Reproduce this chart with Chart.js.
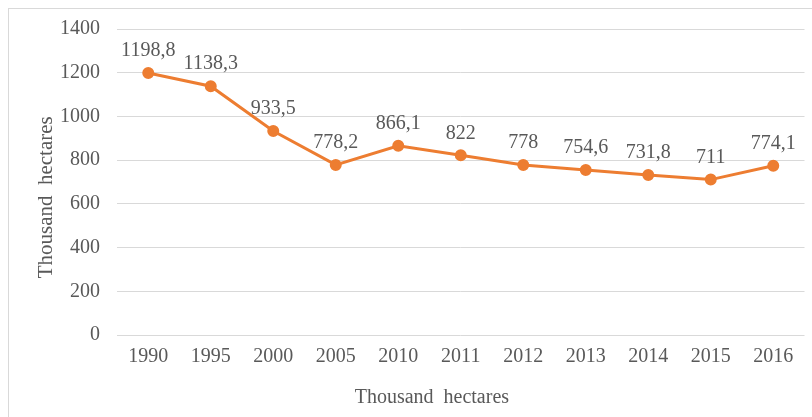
<!DOCTYPE html>
<html>
<head>
<meta charset="utf-8">
<script src="https://cdn.jsdelivr.net/npm/chart.js@4/dist/chart.umd.min.js"></script>
<style>
  html, body { margin: 0; padding: 0; background: #fff; }
  #frame { position: absolute; left: 8px; top: 8px; width: 810px; height: 420px; border: 1px solid #d9d9d9; box-sizing: border-box; }
  #wrap { position: absolute; left: 0; top: 0; width: 812px; height: 417px; }
</style>
</head>
<body>
<div id="frame"></div>
<div id="wrap"><canvas id="c" width="812" height="417"></canvas></div>
<script>
const years = ['1990', '1995', '2000', '2005', '2010', '2011', '2012', '2013', '2014', '2015', '2016'];
const areaValues = [1198.8, 1138.3, 933.5, 778.2, 866.1, 822, 778, 754.6, 731.8, 711, 774.1];
const yTicks = [0, 200, 400, 600, 800, 1000, 1200, 1400];
const xAxisTitle = 'Thousand  hectares';
const yAxisTitle = 'Thousand  hectares';

const FONT = "'Liberation Serif', 'Times New Roman', serif";
const TEXT = '#595959';

const labelPlugin = {
  id: 'pointLabels',
  afterDatasetsDraw(chart) {
    const ctx = chart.ctx;
    const meta = chart.getDatasetMeta(0);
    ctx.save();
    ctx.font = '20px ' + FONT;
    ctx.fillStyle = TEXT;
    ctx.textAlign = 'center';
    ctx.textBaseline = 'middle';
    meta.data.forEach((pt, i) => {
      const txt = String(chart.data.datasets[0].data[i]).replace('.', ',');
      ctx.fillText(txt, pt.x, pt.y - 22);
    });
    ctx.restore();
  }
};

const titlePlugin = {
  id: 'axisTitles',
  afterDraw(chart) {
    const ctx = chart.ctx;
    const a = chart.chartArea;
    ctx.save();
    ctx.fillStyle = TEXT;
    ctx.textAlign = 'center';
    ctx.textBaseline = 'middle';
    ctx.font = '20px ' + FONT;
    ctx.fillText(xAxisTitle, a.left + (a.right - a.left) * 0.458, a.bottom + 63);
    ctx.font = '21px ' + FONT;
    ctx.translate(a.left - 71, a.top + (a.bottom - a.top) * 0.55);
    ctx.rotate(-Math.PI / 2);
    ctx.fillText(yAxisTitle, 0, 0);
    ctx.restore();
  }
};

new Chart(document.getElementById('c'), {
  type: 'line',
  data: {
    labels: years,
    datasets: [{
      data: areaValues,
      borderColor: '#ED7D31',
      backgroundColor: '#ED7D31',
      borderWidth: 3,
      pointRadius: 4.5,
      pointBackgroundColor: '#ED7D31',
      pointBorderColor: '#ED7D31',
      tension: 0,
      fill: false
    }]
  },
  options: {
    responsive: false,
    animation: false,
    devicePixelRatio: 1,
    layout: { padding: { left: 0, right: 3, top: 28, bottom: 9 } },
    plugins: { legend: { display: false }, tooltip: { enabled: false } },
    scales: {
      x: {
        offset: true,
        grid: { display: false, drawTicks: false },
        border: { display: false },
        ticks: { color: TEXT, font: { family: FONT, size: 20 }, padding: 10, maxRotation: 0 },
        afterFit(s) { s.height = 73; }
      },
      y: {
        min: 0, max: 1400,
        afterBuildTicks(s) { s.ticks = yTicks.map(v => ({ value: v })); },
        grid: { color: '#d9d9d9', lineWidth: 1, drawTicks: false },
        border: { display: false },
        ticks: { color: TEXT, font: { family: FONT, size: 20 }, padding: 17, callback: v => String(v) },
        afterFit(s) { s.width = 117; }
      }
    }
  },
  plugins: [labelPlugin, titlePlugin]
});
</script>
</body>
</html>
